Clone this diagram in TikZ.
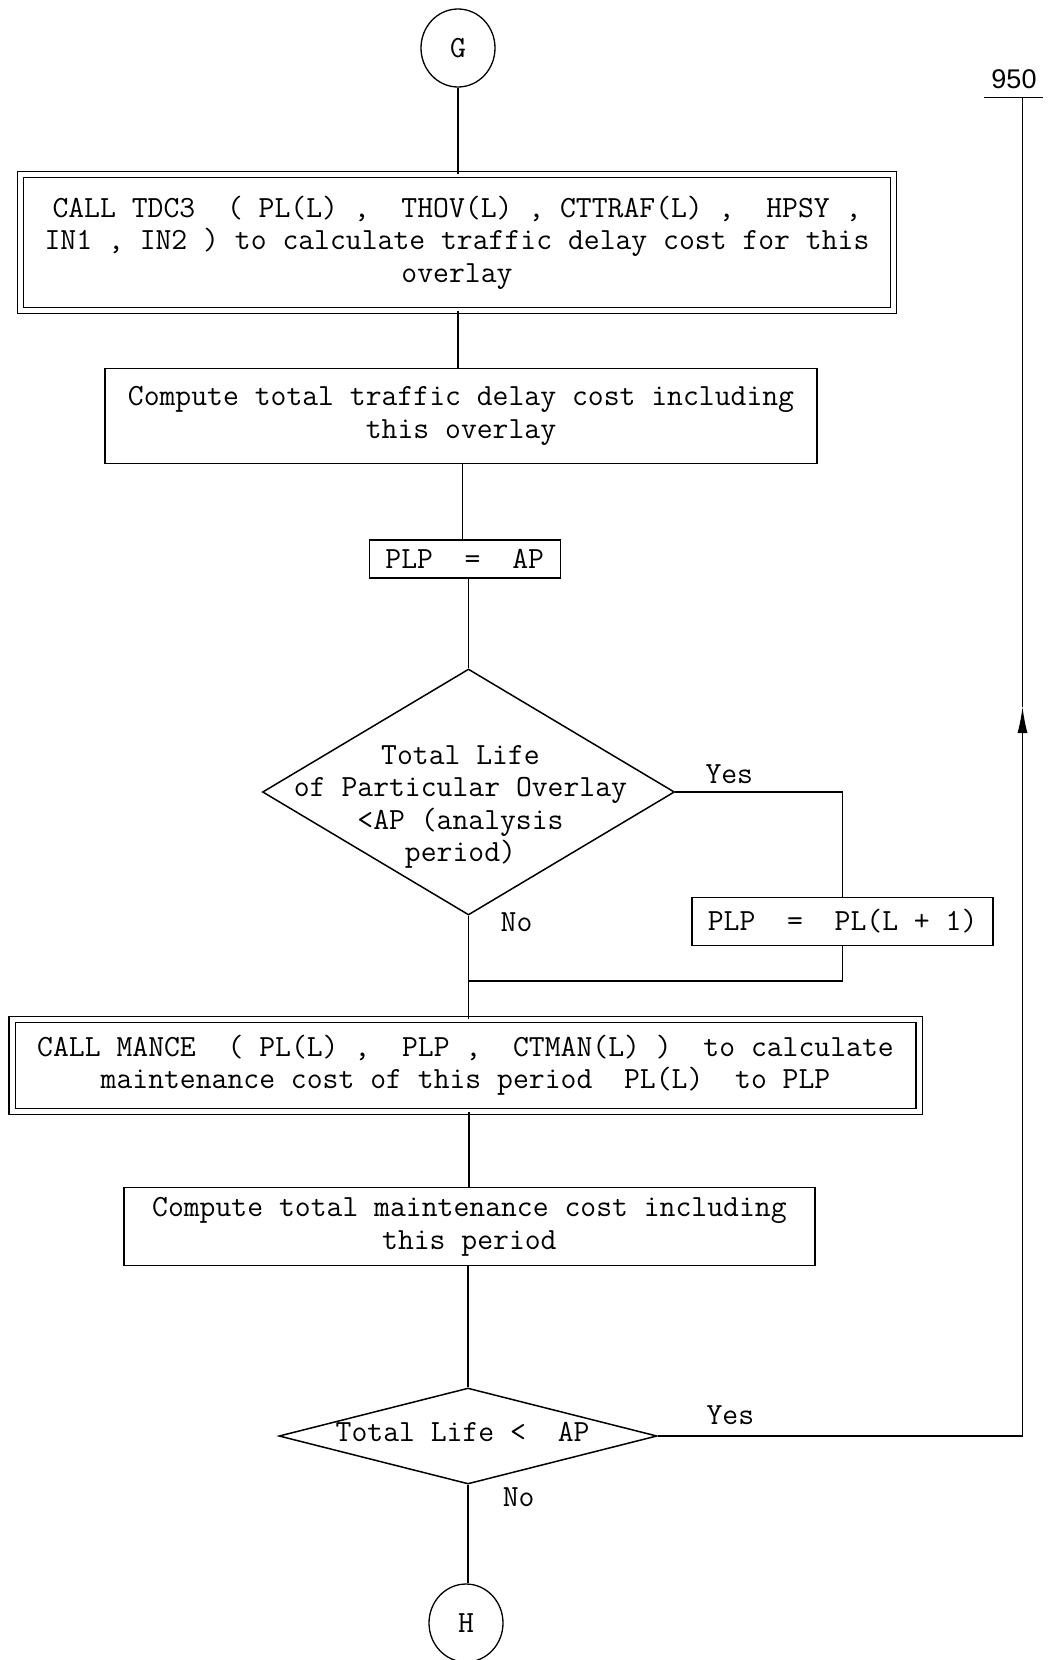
\documentclass[tikz,border=0pt]{standalone}
\usepackage{fontspec}
\usetikzlibrary{shapes.geometric,arrows.meta}
\newfontfamily\numfont{Liberation Sans}
\newcommand\flowfont{\ttfamily\fontsize{30.8}{32.5}\selectfont}
\begin{document}
\begin{tikzpicture}[x=1pt,y=-1pt,
  every node/.style={font=\flowfont},
  line/.style={line width=1.3pt},
  box/.style={draw,line width=1.3pt,inner sep=0pt,align=center},
  dbox/.style={box,double,double distance=5pt},
  decision/.style={draw,diamond,line width=1.5pt,inner sep=0pt},
  termnode/.style={draw,ellipse,line width=1.3pt,minimum width=74pt,minimum height=78pt,inner sep=0pt},
  lbl/.style={inner sep=0pt}]
\useasboundingbox (0,0) rectangle (1049,1660);

% connectors and process boxes
\node[termnode] (G) at (458,48) {\flowfont G};
\node[dbox,minimum width=873pt,minimum height=136pt] (b1) at (457,242.4)
  {CALL TDC3~~(~PL(L)~,~~THOV(L)~,~CTTRAF(L)~,~~HPSY~,\\
   IN1~,~IN2~)~to calculate traffic delay cost for this\\
   overlay};
\node[box,minimum width=712pt,minimum height=95pt] (b2) at (461,416)
  {Compute total traffic delay cost including\\this overlay};
\node[box,minimum width=191pt,minimum height=38pt] (b3) at (464.7,559)
  {PLP~~=~~AP};
\node[decision,minimum width=412pt,minimum height=246pt] (d1) at (468.5,792) {};
\node[lbl,align=center] (d1t) at (460.5,807)
  {Total Life\\of Particular Overlay\\<AP (analysis\\period)};
\node[box,minimum width=301pt,minimum height=48pt] (b4) at (842.6,921.4)
  {PLP~~=~~PL(L~+~1)};
\coordinate (j1) at (469,981);
\node[dbox,minimum width=907pt,minimum height=92pt] (b5) at (465.5,1065.3)
  {CALL MANCE~~(~PL(L)~,~~PLP~,~~CTMAN(L)~)~~to calculate\\
   maintenance cost of this period~~PL(L)~~to PLP};
\node[box,minimum width=691pt,minimum height=78pt] (b6) at (469.4,1226.8)
  {Compute total maintenance cost including\\this period};
\node[decision,minimum width=378pt,minimum height=96pt] (d2) at (468,1436) {};
\node[lbl] (d2t) at (462.6,1432) {Total Life~<~~AP};
\node[termnode] (H) at (466,1623) {\flowfont H};

% branch labels
\node[lbl] (yes1) at (729.3,773.8) {Yes};
\node[lbl] (no1) at (516.5,922) {No};
\node[lbl] (yes2) at (730.4,1415.2) {Yes};
\node[lbl] (no2) at (518.7,1496.7) {No};

% return path to 950
\node[lbl,font=\numfont\fontsize{27}{30}\selectfont] (n950) at (1014,79) {950};
\coordinate (u1) at (984,97.4);
\coordinate (u2) at (1043,97.4);
\coordinate (top) at (1022.5,97.4);
\coordinate (tip) at (1022.5,707);

% flow lines
\draw[line] (G.south) -- (G.south |- b1.north);
\draw[line] (458,0 |- b1.south) -- (458,0 |- b2.north);
\draw[line] (462.6,0 |- b2.south) -- (462.6,0 |- b3.north);
\draw[line] (d1.north |- b3.south) -- (d1.north);
\draw[line] (d1.east) -| (b4.north);
\draw[line] (b4.south) |- (j1);
\draw[line] (d1.south) -- (d1.south |- b5.north);
\draw[line] (469,0 |- b5.south) -- (469,0 |- b6.north);
\draw[line] (d2.north |- b6.south) -- (d2.north);
\draw[line] (d2.south) -- (d2.south |- H.north);
\draw[line,-{Latex[length=26pt,width=10pt]}] (d2.east) -| (tip);
\draw[line] (tip) -- (top);
\draw[line] (u1) -- (u2);
\end{tikzpicture}
\end{document}
